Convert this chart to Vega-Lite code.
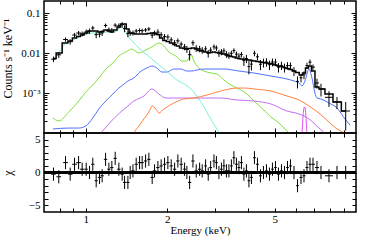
{
"$schema": "https://vega.github.io/schema/vega-lite/v6.json",
"padding": {"left": 0, "top": -1, "right": 0, "bottom": 0},
"spacing": 0,
"bounds": "flush",
"config": {
 "view": {"stroke": "black", "strokeWidth": 1.5},
 "axis": {"domain": false, "grid": false, "tickColor": "black", "tickWidth": 1, "labelColor": "black", "titleColor": "black", "labelFont": "Liberation Serif", "titleFont": "Liberation Serif", "labelFontSize": 11, "titleFontSize": 11, "titleFontWeight": "normal", "labelOverlap": false, "labelFlush": false}
},
"datasets": {
"spec": [
{"E":0.759,"lo":0.744,"hi":0.774,"c":0.00702,"cl":0.00593,"ch":0.00811,"m":0.00729,"r":-0.25,"rl":-1.25,"rh":0.75},
{"E":0.794,"lo":0.778,"hi":0.810,"c":0.00903,"cl":0.00753,"ch":0.01053,"m":0.01,"r":-0.65,"rl":-1.65,"rh":0.35},
{"E":0.841,"lo":0.824,"hi":0.858,"c":0.02178,"cl":0.01911,"ch":0.02445,"m":0.01778,"r":1.5,"rl":0.5,"rh":2.5},
{"E":0.875,"lo":0.858,"hi":0.893,"c":0.0192,"cl":0.01621,"ch":0.02219,"m":0.01995,"r":-0.25,"rl":-1.25,"rh":0.75},
{"E":0.908,"lo":0.890,"hi":0.926,"c":0.02816,"cl":0.0246,"ch":0.03172,"m":0.02371,"r":1.25,"rl":0.25,"rh":2.25},
{"E":0.940,"lo":0.921,"hi":0.959,"c":0.03167,"cl":0.02779,"ch":0.03555,"m":0.02585,"r":1.5,"rl":0.5,"rh":2.5},
{"E":0.969,"lo":0.950,"hi":0.988,"c":0.03029,"cl":0.02606,"ch":0.03452,"m":0.02818,"r":0.5,"rl":-0.5,"rh":1.5},
{"E":1.003,"lo":0.989,"hi":1.017,"c":0.03399,"cl":0.02925,"ch":0.03873,"m":0.03162,"r":0.5,"rl":-0.5,"rh":1.5},
{"E":1.032,"lo":1.018,"hi":1.046,"c":0.03548,"cl":0.03016,"ch":0.0408,"m":0.03548,"r":0,"rl":-1,"rh":1},
{"E":1.061,"lo":1.046,"hi":1.076,"c":0.04213,"cl":0.03681,"ch":0.04745,"m":0.03548,"r":1.25,"rl":0.25,"rh":2.25},
{"E":1.092,"lo":1.077,"hi":1.107,"c":0.02883,"cl":0.02351,"ch":0.03415,"m":0.03548,"r":-1.25,"rl":-2.25,"rh":-0.25},
{"E":1.124,"lo":1.108,"hi":1.140,"c":0.02973,"cl":0.0247,"ch":0.03476,"m":0.0335,"r":-0.75,"rl":-1.75,"rh":0.25},
{"E":1.149,"lo":1.133,"hi":1.165,"c":0.03188,"cl":0.02671,"ch":0.03705,"m":0.03447,"r":-0.5,"rl":-1.5,"rh":0.5},
{"E":1.183,"lo":1.166,"hi":1.200,"c":0.04885,"cl":0.04321,"ch":0.05449,"m":0.03758,"r":2,"rl":1,"rh":3},
{"E":1.217,"lo":1.200,"hi":1.234,"c":0.03814,"cl":0.03282,"ch":0.04346,"m":0.03548,"r":0.5,"rl":-0.5,"rh":1.5},
{"E":1.248,"lo":1.231,"hi":1.265,"c":0.03727,"cl":0.03224,"ch":0.0423,"m":0.0335,"r":0.75,"rl":-0.25,"rh":1.75},
{"E":1.284,"lo":1.266,"hi":1.302,"c":0.0497,"cl":0.04406,"ch":0.05534,"m":0.03758,"r":2.15,"rl":1.15,"rh":3.15},
{"E":1.325,"lo":1.306,"hi":1.344,"c":0.04802,"cl":0.04132,"ch":0.05472,"m":0.04467,"r":0.5,"rl":-0.5,"rh":1.5},
{"E":1.363,"lo":1.344,"hi":1.382,"c":0.0511,"cl":0.04314,"ch":0.05906,"m":0.05309,"r":-0.25,"rl":-1.25,"rh":0.75},
{"E":1.391,"lo":1.372,"hi":1.410,"c":0.04114,"cl":0.03318,"ch":0.0491,"m":0.05309,"r":-1.5,"rl":-2.5,"rh":-0.5},
{"E":1.431,"lo":1.411,"hi":1.451,"c":0.03085,"cl":0.02488,"ch":0.03682,"m":0.03981,"r":-1.5,"rl":-2.5,"rh":-0.5},
{"E":1.459,"lo":1.439,"hi":1.479,"c":0.03162,"cl":0.02688,"ch":0.03636,"m":0.03162,"r":0,"rl":-1,"rh":1},
{"E":1.494,"lo":1.473,"hi":1.515,"c":0.03187,"cl":0.02726,"ch":0.03648,"m":0.03072,"r":0.25,"rl":-0.75,"rh":1.25},
{"E":1.536,"lo":1.514,"hi":1.558,"c":0.03545,"cl":0.03097,"ch":0.03993,"m":0.02985,"r":1.25,"rl":0.25,"rh":2.25},
{"E":1.581,"lo":1.559,"hi":1.603,"c":0.03657,"cl":0.03209,"ch":0.04105,"m":0.02985,"r":1.5,"rl":0.5,"rh":2.5},
{"E":1.616,"lo":1.593,"hi":1.639,"c":0.0362,"cl":0.0317,"ch":0.0407,"m":0.02985,"r":1.5,"rl":0.5,"rh":2.5},
{"E":1.664,"lo":1.641,"hi":1.687,"c":0.03769,"cl":0.03321,"ch":0.04217,"m":0.02985,"r":1.75,"rl":0.75,"rh":2.75},
{"E":1.711,"lo":1.687,"hi":1.735,"c":0.03994,"cl":0.03533,"ch":0.04455,"m":0.03072,"r":2,"rl":1,"rh":3},
{"E":1.760,"lo":1.735,"hi":1.785,"c":0.02806,"cl":0.02332,"ch":0.0328,"m":0.03162,"r":-0.75,"rl":-1.75,"rh":0.25},
{"E":1.796,"lo":1.771,"hi":1.821,"c":0.03187,"cl":0.02726,"ch":0.03648,"m":0.03072,"r":0.25,"rl":-0.75,"rh":1.25},
{"E":1.848,"lo":1.822,"hi":1.874,"c":0.03336,"cl":0.02756,"ch":0.03916,"m":0.02901,"r":0.75,"rl":-0.25,"rh":1.75},
{"E":1.900,"lo":1.873,"hi":1.927,"c":0.02845,"cl":0.02371,"ch":0.03319,"m":0.02371,"r":1,"rl":0,"rh":2},
{"E":1.956,"lo":1.929,"hi":1.983,"c":0.02568,"cl":0.02157,"ch":0.02979,"m":0.02054,"r":1.25,"rl":0.25,"rh":2.25},
{"E":2.012,"lo":1.984,"hi":2.040,"c":0.02521,"cl":0.02133,"ch":0.02909,"m":0.01939,"r":1.5,"rl":0.5,"rh":2.5},
{"E":2.070,"lo":2.041,"hi":2.099,"c":0.02134,"cl":0.01778,"ch":0.0249,"m":0.01778,"r":1,"rl":0,"rh":2},
{"E":2.131,"lo":2.101,"hi":2.161,"c":0.01794,"cl":0.01468,"ch":0.0212,"m":0.01631,"r":0.5,"rl":-0.5,"rh":1.5},
{"E":2.191,"lo":2.160,"hi":2.222,"c":0.0202,"cl":0.01721,"ch":0.02319,"m":0.01496,"r":1.75,"rl":0.75,"rh":2.75},
{"E":2.254,"lo":2.222,"hi":2.286,"c":0.01668,"cl":0.01401,"ch":0.01935,"m":0.01334,"r":1.25,"rl":0.25,"rh":2.25},
{"E":2.320,"lo":2.288,"hi":2.352,"c":0.01426,"cl":0.01167,"ch":0.01685,"m":0.01296,"r":0.5,"rl":-0.5,"rh":1.5},
{"E":2.366,"lo":2.333,"hi":2.399,"c":0.01259,"cl":0.01007,"ch":0.01511,"m":0.01259,"r":0,"rl":-1,"rh":1},
{"E":2.422,"lo":2.388,"hi":2.456,"c":0.00907,"cl":0.00648,"ch":0.01166,"m":0.01296,"r":-1.5,"rl":-2.5,"rh":-0.5},
{"E":2.491,"lo":2.456,"hi":2.526,"c":0.01801,"cl":0.01534,"ch":0.02068,"m":0.01334,"r":1.75,"rl":0.75,"rh":2.75},
{"E":2.562,"lo":2.526,"hi":2.598,"c":0.01322,"cl":0.0107,"ch":0.01574,"m":0.01259,"r":0.25,"rl":-0.75,"rh":1.25},
{"E":2.637,"lo":2.600,"hi":2.674,"c":0.01271,"cl":0.0104,"ch":0.01502,"m":0.01155,"r":0.5,"rl":-0.5,"rh":1.5},
{"E":2.696,"lo":2.658,"hi":2.734,"c":0.01178,"cl":0.00954,"ch":0.01402,"m":0.01122,"r":0.25,"rl":-0.75,"rh":1.25},
{"E":2.775,"lo":2.742,"hi":2.808,"c":0.01271,"cl":0.01059,"ch":0.01483,"m":0.01059,"r":1,"rl":0,"rh":2},
{"E":2.838,"lo":2.804,"hi":2.872,"c":0.00978,"cl":0.00772,"ch":0.01184,"m":0.01029,"r":-0.25,"rl":-1.25,"rh":0.75},
{"E":2.897,"lo":2.862,"hi":2.932,"c":0.01183,"cl":0.00977,"ch":0.01389,"m":0.01029,"r":0.75,"rl":-0.25,"rh":1.75},
{"E":2.980,"lo":2.944,"hi":3.016,"c":0.0143,"cl":0.01218,"ch":0.01642,"m":0.01059,"r":1.75,"rl":0.75,"rh":2.75},
{"E":3.043,"lo":3.006,"hi":3.080,"c":0.01338,"cl":0.01132,"ch":0.01544,"m":0.01029,"r":1.5,"rl":0.5,"rh":2.5},
{"E":3.109,"lo":3.072,"hi":3.146,"c":0.01,"cl":0.008,"ch":0.012,"m":0.01,"r":0,"rl":-1,"rh":1},
{"E":3.176,"lo":3.138,"hi":3.214,"c":0.01069,"cl":0.00875,"ch":0.01263,"m":0.00972,"r":0.5,"rl":-0.5,"rh":1.5},
{"E":3.244,"lo":3.205,"hi":3.283,"c":0.01133,"cl":0.00944,"ch":0.01322,"m":0.00944,"r":1,"rl":0,"rh":2},
{"E":3.314,"lo":3.274,"hi":3.354,"c":0.00936,"cl":0.00758,"ch":0.01114,"m":0.00891,"r":0.25,"rl":-0.75,"rh":1.25},
{"E":3.385,"lo":3.344,"hi":3.426,"c":0.00883,"cl":0.00715,"ch":0.01051,"m":0.00841,"r":0.25,"rl":-0.75,"rh":1.25},
{"E":3.458,"lo":3.417,"hi":3.499,"c":0.00982,"cl":0.00818,"ch":0.01146,"m":0.00818,"r":1,"rl":0,"rh":2},
{"E":3.532,"lo":3.490,"hi":3.574,"c":0.01151,"cl":0.00992,"ch":0.0131,"m":0.00794,"r":2.25,"rl":1.25,"rh":3.25},
{"E":3.609,"lo":3.566,"hi":3.652,"c":0.00938,"cl":0.00788,"ch":0.01088,"m":0.0075,"r":1.25,"rl":0.25,"rh":2.25},
{"E":3.687,"lo":3.643,"hi":3.731,"c":0.00838,"cl":0.00692,"ch":0.00984,"m":0.00729,"r":0.75,"rl":-0.25,"rh":1.75},
{"E":3.766,"lo":3.721,"hi":3.811,"c":0.0092,"cl":0.00778,"ch":0.01062,"m":0.00708,"r":1.5,"rl":0.5,"rh":2.5},
{"E":3.847,"lo":3.801,"hi":3.893,"c":0.00645,"cl":0.00473,"ch":0.00817,"m":0.00688,"r":-0.25,"rl":-1.25,"rh":0.75},
{"E":3.930,"lo":3.883,"hi":3.977,"c":0.00731,"cl":0.00559,"ch":0.00903,"m":0.00688,"r":0.25,"rl":-0.75,"rh":1.25},
{"E":4.015,"lo":3.967,"hi":4.063,"c":0.00459,"cl":0.00292,"ch":0.00626,"m":0.00668,"r":-1.25,"rl":-2.25,"rh":-0.25},
{"E":4.102,"lo":4.053,"hi":4.151,"c":0.00527,"cl":0.00365,"ch":0.00689,"m":0.00649,"r":-0.75,"rl":-1.75,"rh":0.25},
{"E":4.208,"lo":4.158,"hi":4.258,"c":0.00986,"cl":0.00828,"ch":0.01144,"m":0.00631,"r":2.25,"rl":1.25,"rh":3.25},
{"E":4.317,"lo":4.265,"hi":4.369,"c":0.00805,"cl":0.00652,"ch":0.00958,"m":0.00613,"r":1.25,"rl":0.25,"rh":2.25},
{"E":4.429,"lo":4.376,"hi":4.482,"c":0.00522,"cl":0.00373,"ch":0.00671,"m":0.00596,"r":-0.5,"rl":-1.5,"rh":0.5},
{"E":4.544,"lo":4.489,"hi":4.599,"c":0.00579,"cl":0.00434,"ch":0.00724,"m":0.00579,"r":0,"rl":-1,"rh":1},
{"E":4.662,"lo":4.606,"hi":4.718,"c":0.00597,"cl":0.00456,"ch":0.00738,"m":0.00562,"r":0.25,"rl":-0.75,"rh":1.25},
{"E":4.783,"lo":4.726,"hi":4.840,"c":0.00512,"cl":0.00375,"ch":0.00649,"m":0.00546,"r":-0.25,"rl":-1.25,"rh":0.75},
{"E":4.906,"lo":4.847,"hi":4.965,"c":0.00597,"cl":0.00464,"ch":0.0073,"m":0.00531,"r":0.5,"rl":-0.5,"rh":1.5},
{"E":5.034,"lo":4.974,"hi":5.094,"c":0.00595,"cl":0.0047,"ch":0.0072,"m":0.00501,"r":0.75,"rl":-0.25,"rh":1.75},
{"E":5.164,"lo":5.102,"hi":5.226,"c":0.00443,"cl":0.00325,"ch":0.00561,"m":0.00473,"r":-0.25,"rl":-1.25,"rh":0.75},
{"E":5.298,"lo":5.234,"hi":5.362,"c":0.00489,"cl":0.00374,"ch":0.00604,"m":0.0046,"r":0.25,"rl":-0.75,"rh":1.25},
{"E":5.436,"lo":5.371,"hi":5.501,"c":0.00434,"cl":0.00325,"ch":0.00543,"m":0.00434,"r":0,"rl":-1,"rh":1},
{"E":5.577,"lo":5.510,"hi":5.644,"c":0.00487,"cl":0.00384,"ch":0.0059,"m":0.0041,"r":0.75,"rl":-0.25,"rh":1.75},
{"E":5.721,"lo":5.652,"hi":5.790,"c":0.00484,"cl":0.00387,"ch":0.00581,"m":0.00387,"r":1,"rl":0,"rh":2},
{"E":5.895,"lo":5.824,"hi":5.966,"c":0.00355,"cl":0.00266,"ch":0.00444,"m":0.00355,"r":0,"rl":-1,"rh":1},
{"E":6.073,"lo":6.000,"hi":6.146,"c":0.00195,"cl":0.0013,"ch":0.0026,"m":0.00325,"r":-2,"rl":-3,"rh":-1},
{"E":6.257,"lo":6.176,"hi":6.338,"c":0.0024,"cl":0.00184,"ch":0.00296,"m":0.00282,"r":-0.75,"rl":-1.75,"rh":0.25},
{"E":6.419,"lo":6.336,"hi":6.502,"c":0.00284,"cl":0.00221,"ch":0.00347,"m":0.00316,"r":-0.5,"rl":-1.5,"rh":0.5},
{"E":6.585,"lo":6.499,"hi":6.671,"c":0.00485,"cl":0.00401,"ch":0.00569,"m":0.00422,"r":0.75,"rl":-0.25,"rh":1.75},
{"E":6.756,"lo":6.668,"hi":6.844,"c":0.00591,"cl":0.00496,"ch":0.00686,"m":0.00473,"r":1.25,"rl":0.25,"rh":2.25},
{"E":6.931,"lo":6.841,"hi":7.048,"c":0.00444,"cl":0.00373,"ch":0.00515,"m":0.00355,"r":1.25,"rl":0.25,"rh":2.25},
{"E":7.171,"lo":7.048,"hi":7.295,"c":0.00178,"cl":0.00129,"ch":0.00227,"m":0.00141,"r":0.75,"rl":-0.25,"rh":1.75},
{"E":7.420,"lo":7.295,"hi":7.677,"c":0.00126,"cl":0.00082,"ch":0.0017,"m":0.00126,"r":0,"rl":-1,"rh":1},
{"E":7.943,"lo":7.677,"hi":8.219,"c":0.00078,"cl":0.00045,"ch":0.00111,"m":0.000944,"r":-0.5,"rl":-1.5,"rh":0.5},
{"E":8.503,"lo":8.219,"hi":8.799,"c":0.000596,"cl":0.000396,"ch":0.000796,"m":0.000596,"r":0,"rl":-1,"rh":1},
{"E":9.160,"lo":8.799,"hi":9.501,"c":0.000355,"cl":0.000115,"ch":0.000595,"m":0.000355,"r":0,"rl":-1,"rh":1}
],
"comp": [
{"E":0.755,"v":0.000237,"k":"g"},{"E":0.794,"v":0.0002,"k":"g"},{"E":0.865,"v":0.000335,"k":"g"},{"E":0.942,"v":0.000631,"k":"g"},{"E":1.0,"v":0.00106,"k":"g"},{"E":1.061,"v":0.00158,"k":"g"},{"E":1.117,"v":0.00237,"k":"g"},{"E":1.186,"v":0.00398,"k":"g"},{"E":1.259,"v":0.00562,"k":"g"},{"E":1.325,"v":0.00841,"k":"g"},{"E":1.407,"v":0.0106,"k":"g"},{"E":1.48,"v":0.0126,"k":"g"},{"E":1.572,"v":0.01,"k":"g"},{"E":1.669,"v":0.0119,"k":"g"},{"E":1.756,"v":0.0141,"k":"g"},{"E":1.864,"v":0.0178,"k":"g"},{"E":1.945,"v":0.015,"k":"g"},{"E":2.03,"v":0.0106,"k":"g"},{"E":2.154,"v":0.00841,"k":"g"},{"E":2.268,"v":0.00631,"k":"g"},{"E":2.366,"v":0.00631,"k":"g"},{"E":2.448,"v":0.00944,"k":"g"},{"E":2.512,"v":0.00631,"k":"g"},{"E":2.62,"v":0.00422,"k":"g"},{"E":2.735,"v":0.00355,"k":"g"},{"E":2.904,"v":0.00316,"k":"g"},{"E":3.056,"v":0.00299,"k":"g"},{"E":3.244,"v":0.00211,"k":"g"},{"E":3.444,"v":0.00158,"k":"g"},{"E":3.687,"v":0.00126,"k":"g"},{"E":3.948,"v":0.000944,"k":"g"},{"E":4.19,"v":0.000631,"k":"g"},{"E":4.563,"v":0.000376,"k":"g"},{"E":4.843,"v":0.000251,"k":"g"},{"E":5.186,"v":0.000178,"k":"g"},{"E":5.553,"v":0.000112,"k":"g"},{"E":5.895,"v":0.000075,"k":"g"},
{"E":0.755,"v":0.000126,"k":"b"},{"E":0.865,"v":0.000133,"k":"b"},{"E":0.942,"v":0.000133,"k":"b"},{"E":1.0,"v":0.00015,"k":"b"},{"E":1.061,"v":0.000237,"k":"b"},{"E":1.117,"v":0.000398,"k":"b"},{"E":1.186,"v":0.000631,"k":"b"},{"E":1.259,"v":0.000944,"k":"b"},{"E":1.325,"v":0.00133,"k":"b"},{"E":1.371,"v":0.00158,"k":"b"},{"E":1.431,"v":0.002,"k":"b"},{"E":1.506,"v":0.00237,"k":"b"},{"E":1.585,"v":0.00335,"k":"b"},{"E":1.682,"v":0.00422,"k":"b"},{"E":1.756,"v":0.00473,"k":"b"},{"E":1.832,"v":0.00422,"k":"b"},{"E":1.912,"v":0.00335,"k":"b"},{"E":1.995,"v":0.00335,"k":"b"},{"E":2.118,"v":0.00398,"k":"b"},{"E":2.248,"v":0.00398,"k":"b"},{"E":2.366,"v":0.00355,"k":"b"},{"E":2.47,"v":0.00355,"k":"b"},{"E":2.577,"v":0.00376,"k":"b"},{"E":2.735,"v":0.00398,"k":"b"},{"E":2.904,"v":0.00398,"k":"b"},{"E":3.244,"v":0.00398,"k":"b"},{"E":3.687,"v":0.00355,"k":"b"},{"E":4.19,"v":0.00316,"k":"b"},{"E":4.843,"v":0.00266,"k":"b"},{"E":5.553,"v":0.00224,"k":"b"},{"E":5.895,"v":0.002,"k":"b"},{"E":6.151,"v":0.00178,"k":"b"},{"E":6.31,"v":0.0015,"k":"b"},{"E":6.473,"v":0.002,"k":"b"},{"E":6.697,"v":0.00398,"k":"b"},{"E":6.871,"v":0.00237,"k":"b"},{"E":7.048,"v":0.001,"k":"b"},{"E":7.171,"v":0.00075,"k":"b"},{"E":7.42,"v":0.000708,"k":"b"},{"E":7.943,"v":0.000562,"k":"b"},{"E":8.503,"v":0.000422,"k":"b"},{"E":9.105,"v":0.000224,"k":"b"},{"E":9.501,"v":0.000158,"k":"b"},
{"E":0.755,"v":0.00631,"k":"c"},{"E":0.794,"v":0.01,"k":"c"},{"E":0.836,"v":0.0168,"k":"c"},{"E":0.865,"v":0.0188,"k":"c"},{"E":0.942,"v":0.0251,"k":"c"},{"E":1.0,"v":0.0299,"k":"c"},{"E":1.061,"v":0.0316,"k":"c"},{"E":1.117,"v":0.0316,"k":"c"},{"E":1.186,"v":0.0335,"k":"c"},{"E":1.259,"v":0.0335,"k":"c"},{"E":1.303,"v":0.0355,"k":"c"},{"E":1.348,"v":0.0447,"k":"c"},{"E":1.382,"v":0.0398,"k":"c"},{"E":1.443,"v":0.0251,"k":"c"},{"E":1.506,"v":0.0178,"k":"c"},{"E":1.572,"v":0.0133,"k":"c"},{"E":1.669,"v":0.00944,"k":"c"},{"E":1.756,"v":0.00708,"k":"c"},{"E":1.864,"v":0.00501,"k":"c"},{"E":2.03,"v":0.00316,"k":"c"},{"E":2.173,"v":0.00211,"k":"c"},{"E":2.346,"v":0.00158,"k":"c"},{"E":2.47,"v":0.00119,"k":"c"},{"E":2.62,"v":0.000708,"k":"c"},{"E":2.735,"v":0.000447,"k":"c"},{"E":2.855,"v":0.000266,"k":"c"},{"E":3.056,"v":0.000126,"k":"c"},{"E":3.217,"v":0.0000708,"k":"c"},
{"E":1.1,"v":0.00008,"k":"p"},{"E":1.137,"v":0.0001,"k":"p"},{"E":1.224,"v":0.000178,"k":"p"},{"E":1.333,"v":0.000316,"k":"p"},{"E":1.431,"v":0.000473,"k":"p"},{"E":1.506,"v":0.000631,"k":"p"},{"E":1.64,"v":0.000841,"k":"p"},{"E":1.756,"v":0.00126,"k":"p"},{"E":1.864,"v":0.000944,"k":"p"},{"E":1.978,"v":0.00075,"k":"p"},{"E":2.118,"v":0.00075,"k":"p"},{"E":2.366,"v":0.00075,"k":"p"},{"E":2.666,"v":0.00075,"k":"p"},{"E":3.154,"v":0.00075,"k":"p"},{"E":3.626,"v":0.000668,"k":"p"},{"E":4.19,"v":0.000631,"k":"p"},{"E":4.843,"v":0.000531,"k":"p"},{"E":5.553,"v":0.000355,"k":"p"},{"E":6.151,"v":0.000299,"k":"p"},{"E":6.697,"v":0.000224,"k":"p"},{"E":7.295,"v":0.000133,"k":"p"},{"E":7.743,"v":0.0000944,"k":"p"},
{"E":1.47,"v":0.00007,"k":"o"},{"E":1.506,"v":0.0001,"k":"o"},{"E":1.572,"v":0.00015,"k":"o"},{"E":1.64,"v":0.000224,"k":"o"},{"E":1.711,"v":0.000335,"k":"o"},{"E":1.76,"v":0.000473,"k":"o"},{"E":1.816,"v":0.000398,"k":"o"},{"E":1.864,"v":0.000316,"k":"o"},{"E":1.945,"v":0.000398,"k":"o"},{"E":2.118,"v":0.000562,"k":"o"},{"E":2.307,"v":0.000708,"k":"o"},{"E":2.512,"v":0.00075,"k":"o"},{"E":2.806,"v":0.000891,"k":"o"},{"E":3.154,"v":0.00112,"k":"o"},{"E":3.626,"v":0.00133,"k":"o"},{"E":3.904,"v":0.00133,"k":"o"},{"E":4.19,"v":0.00126,"k":"o"},{"E":4.843,"v":0.00112,"k":"o"},{"E":5.553,"v":0.000841,"k":"o"},{"E":6.151,"v":0.000668,"k":"o"},{"E":6.697,"v":0.000473,"k":"o"},{"E":7.295,"v":0.000316,"k":"o"},{"E":7.943,"v":0.000188,"k":"o"},{"E":8.503,"v":0.000126,"k":"o"},{"E":9.028,"v":0.0001,"k":"o"},{"E":9.501,"v":0.000075,"k":"o"},
{"E":6.283,"v":0.000063,"k":"f"},{"E":6.336,"v":0.00015,"k":"f"},{"E":6.391,"v":0.000355,"k":"f"},{"E":6.446,"v":0.000447,"k":"f"},{"E":6.502,"v":0.000355,"k":"f"},{"E":6.558,"v":0.00015,"k":"f"},{"E":6.613,"v":0.000063,"k":"f"}
]
},
"vconcat": [
{
 "width": 312, "height": 132,
 "resolve": {"axis": {"x": "independent", "y": "independent"}},
 "layer": [
  {
   "data": {"name": "comp"},
   "mark": {"type": "line", "strokeWidth": 1, "clip": true, "interpolate": "monotone"},
   "encoding": {
    "x": {"field": "E", "type": "quantitative", "scale": {"type": "log", "domain": [0.7, 10], "nice": false},
          "axis": {"orient": "bottom", "values": [1, 2, 5], "labels": false, "tickSize": -5, "title": null, "minExtent": 0}},
    "y": {"field": "v", "type": "quantitative", "scale": {"type": "log", "domain": [0.0001, 0.2], "nice": false},
          "axis": {"orient": "left", "values": [0.001, 0.01, 0.1], "tickSize": -5, "labelPadding": 9,
                   "labelExpr": "datum.value > 0.05 ? '0.1' : datum.value > 0.005 ? '0.01' : '10⁻³'",
                   "title": "Counts s⁻¹ keV⁻¹", "titleFontSize": 12, "titlePadding": 0, "titleY": 57, "minExtent": 30, "maxExtent": 30}},
    "color": {"field": "k", "type": "nominal", "legend": null,
              "scale": {"domain": ["g", "b", "c", "p", "o", "f"], "range": ["#7ee03a", "#5070ff", "#7af0d8", "#c070f0", "#ff8040", "#e050f0"]}}
   }
  },
  {
   "data": {"name": "spec"},
   "mark": {"type": "rule", "color": "black", "strokeWidth": 1},
   "encoding": {
    "x": {"field": "lo", "type": "quantitative",
          "axis": {"orient": "bottom", "values": [0.8, 0.9, 3, 4, 6, 7, 8, 9], "labels": false, "tickSize": -3, "title": null, "minExtent": 0}},
    "x2": {"field": "hi"},
    "y": {"field": "c", "type": "quantitative",
          "axis": {"orient": "left", "values": [0.0002, 0.0003, 0.0004, 0.0005, 0.0006, 0.0007, 0.0008, 0.0009, 0.002, 0.003, 0.004, 0.005, 0.006, 0.007, 0.008, 0.009, 0.02, 0.03, 0.04, 0.05, 0.06, 0.07, 0.08, 0.09], "labels": false, "tickSize": -3, "title": null, "minExtent": 0}}
   }
  },
  {
   "data": {"name": "spec"},
   "mark": {"type": "rule", "color": "black", "strokeWidth": 1},
   "encoding": {
    "x": {"field": "E", "type": "quantitative",
          "axis": {"orient": "top", "values": [1, 2, 5], "labels": false, "tickSize": -5, "title": null, "minExtent": 0}},
    "y": {"field": "cl", "type": "quantitative",
          "axis": {"orient": "right", "values": [0.001, 0.01, 0.1], "labels": false, "tickSize": -5, "title": null, "minExtent": 0}},
    "y2": {"field": "ch"}
   }
  },
  {
   "data": {"name": "spec"},
   "mark": {"type": "line", "color": "black", "strokeWidth": 1.5, "interpolate": "step", "clip": true},
   "encoding": {
    "x": {"field": "E", "type": "quantitative",
          "axis": {"orient": "top", "values": [0.8, 0.9, 3, 4, 6, 7, 8, 9], "labels": false, "tickSize": -3, "title": null, "minExtent": 0}},
    "y": {"field": "m", "type": "quantitative",
          "axis": {"orient": "right", "values": [0.0002, 0.0003, 0.0004, 0.0005, 0.0006, 0.0007, 0.0008, 0.0009, 0.002, 0.003, 0.004, 0.005, 0.006, 0.007, 0.008, 0.009, 0.02, 0.03, 0.04, 0.05, 0.06, 0.07, 0.08, 0.09], "labels": false, "tickSize": -3, "title": null, "minExtent": 0}}
   }
  }
 ]
},
{
 "width": 312, "height": 79,
 "data": {"name": "spec"},
 "resolve": {"axis": {"x": "independent", "y": "independent"}},
 "layer": [
  {
   "mark": {"type": "rule", "color": "black", "strokeWidth": 2},
   "encoding": {
    "x": {"datum": 0.7, "type": "quantitative", "scale": {"type": "log", "domain": [0.7, 10], "nice": false},
          "axis": {"orient": "bottom", "values": [0.8, 0.9, 1, 2, 3, 4, 5, 6, 7, 8, 9], "tickSize": -4, "labelPadding": 5, "format": "~g",
                   "labelExpr": "datum.value == 1 || datum.value == 2 || datum.value == 5 ? datum.label : ''",
                   "title": "Energy (keV)", "titlePadding": 0}},
    "x2": {"datum": 10},
    "y": {"datum": 0, "type": "quantitative", "scale": {"domain": [-6, 6], "nice": false, "zero": false},
          "axis": {"orient": "left", "values": [-5, -4, -3, -2, -1, 0, 1, 2, 3, 4, 5], "tickSize": -4, "labelPadding": 8,
                   "labelExpr": "datum.value % 5 == 0 ? datum.label : ''",
                   "title": "χ", "titleFontSize": 12, "titlePadding": 0, "minExtent": 30, "maxExtent": 30}}
   }
  },
  {
   "mark": {"type": "rule", "color": "black", "strokeWidth": 1},
   "encoding": {
    "x": {"field": "lo", "type": "quantitative",
          "axis": {"orient": "top", "values": [0.8, 0.9, 1, 2, 3, 4, 5, 6, 7, 8, 9], "labels": false, "tickSize": -4, "title": null, "minExtent": 0}},
    "x2": {"field": "hi"},
    "y": {"field": "r", "type": "quantitative",
          "axis": {"orient": "right", "values": [-5, -4, -3, -2, -1, 0, 1, 2, 3, 4, 5], "labels": false, "tickSize": -4, "title": null, "minExtent": 0}}
   }
  },
  {
   "mark": {"type": "rule", "color": "black", "strokeWidth": 1},
   "encoding": {
    "x": {"field": "E", "type": "quantitative", "axis": null},
    "y": {"field": "rl", "type": "quantitative", "axis": null},
    "y2": {"field": "rh"}
   }
  }
 ]
}
]
}
